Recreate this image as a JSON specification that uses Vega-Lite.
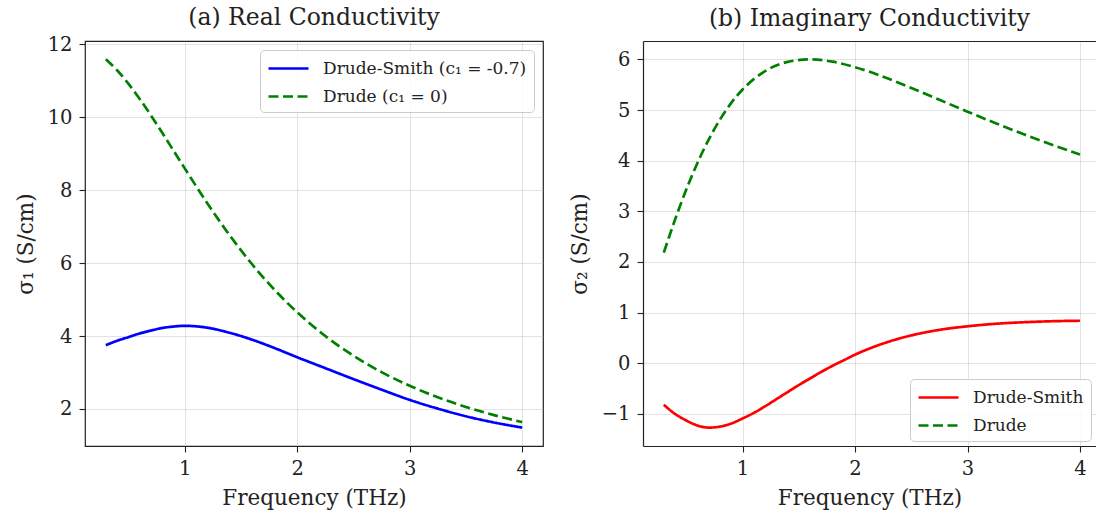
{
  "$schema": "https://vega.github.io/schema/vega-lite/v6.json",
  "padding": {"left": 14, "top": 5, "right": 0, "bottom": 0},
  "background": "white",
  "datasets": {
    "real": [
      {"f": 0.3, "s": "Drude-Smith (c₁ = -0.7)", "v": 3.75},
      {"f": 0.4, "s": "Drude-Smith (c₁ = -0.7)", "v": 3.87},
      {"f": 0.5, "s": "Drude-Smith (c₁ = -0.7)", "v": 3.97},
      {"f": 0.6, "s": "Drude-Smith (c₁ = -0.7)", "v": 4.07},
      {"f": 0.7, "s": "Drude-Smith (c₁ = -0.7)", "v": 4.15},
      {"f": 0.8, "s": "Drude-Smith (c₁ = -0.7)", "v": 4.22},
      {"f": 0.9, "s": "Drude-Smith (c₁ = -0.7)", "v": 4.26},
      {"f": 1.0, "s": "Drude-Smith (c₁ = -0.7)", "v": 4.28},
      {"f": 1.2, "s": "Drude-Smith (c₁ = -0.7)", "v": 4.23},
      {"f": 1.4, "s": "Drude-Smith (c₁ = -0.7)", "v": 4.09},
      {"f": 1.6, "s": "Drude-Smith (c₁ = -0.7)", "v": 3.90},
      {"f": 1.8, "s": "Drude-Smith (c₁ = -0.7)", "v": 3.67},
      {"f": 2.0, "s": "Drude-Smith (c₁ = -0.7)", "v": 3.42},
      {"f": 2.25, "s": "Drude-Smith (c₁ = -0.7)", "v": 3.12},
      {"f": 2.5, "s": "Drude-Smith (c₁ = -0.7)", "v": 2.82},
      {"f": 2.75, "s": "Drude-Smith (c₁ = -0.7)", "v": 2.53},
      {"f": 3.0, "s": "Drude-Smith (c₁ = -0.7)", "v": 2.25},
      {"f": 3.25, "s": "Drude-Smith (c₁ = -0.7)", "v": 2.01},
      {"f": 3.5, "s": "Drude-Smith (c₁ = -0.7)", "v": 1.80},
      {"f": 3.75, "s": "Drude-Smith (c₁ = -0.7)", "v": 1.63},
      {"f": 4.0, "s": "Drude-Smith (c₁ = -0.7)", "v": 1.49},
      {"f": 0.3, "s": "Drude (c₁ = 0)", "v": 11.588},
      {"f": 0.4, "s": "Drude (c₁ = 0)", "v": 11.287},
      {"f": 0.5, "s": "Drude (c₁ = 0)", "v": 10.922},
      {"f": 0.6, "s": "Drude (c₁ = 0)", "v": 10.507},
      {"f": 0.7, "s": "Drude (c₁ = 0)", "v": 10.055},
      {"f": 0.8, "s": "Drude (c₁ = 0)", "v": 9.580},
      {"f": 0.9, "s": "Drude (c₁ = 0)", "v": 9.092},
      {"f": 1.0, "s": "Drude (c₁ = 0)", "v": 8.604},
      {"f": 1.2, "s": "Drude (c₁ = 0)", "v": 7.651},
      {"f": 1.4, "s": "Drude (c₁ = 0)", "v": 6.765},
      {"f": 1.6, "s": "Drude (c₁ = 0)", "v": 5.968},
      {"f": 1.8, "s": "Drude (c₁ = 0)", "v": 5.265},
      {"f": 2.0, "s": "Drude (c₁ = 0)", "v": 4.653},
      {"f": 2.25, "s": "Drude (c₁ = 0)", "v": 4.002},
      {"f": 2.5, "s": "Drude (c₁ = 0)", "v": 3.461},
      {"f": 2.75, "s": "Drude (c₁ = 0)", "v": 3.011},
      {"f": 3.0, "s": "Drude (c₁ = 0)", "v": 2.636},
      {"f": 3.25, "s": "Drude (c₁ = 0)", "v": 2.321},
      {"f": 3.5, "s": "Drude (c₁ = 0)", "v": 2.056},
      {"f": 3.75, "s": "Drude (c₁ = 0)", "v": 1.832},
      {"f": 4.0, "s": "Drude (c₁ = 0)", "v": 1.640}
    ],
    "imag": [
      {"f": 0.3, "s": "Drude-Smith", "v": -0.82},
      {"f": 0.4, "s": "Drude-Smith", "v": -1.00},
      {"f": 0.5, "s": "Drude-Smith", "v": -1.13},
      {"f": 0.6, "s": "Drude-Smith", "v": -1.23},
      {"f": 0.7, "s": "Drude-Smith", "v": -1.27},
      {"f": 0.8, "s": "Drude-Smith", "v": -1.25},
      {"f": 0.9, "s": "Drude-Smith", "v": -1.19},
      {"f": 1.0, "s": "Drude-Smith", "v": -1.09},
      {"f": 1.1, "s": "Drude-Smith", "v": -0.98},
      {"f": 1.2, "s": "Drude-Smith", "v": -0.85},
      {"f": 1.3, "s": "Drude-Smith", "v": -0.71},
      {"f": 1.4, "s": "Drude-Smith", "v": -0.57},
      {"f": 1.5, "s": "Drude-Smith", "v": -0.43},
      {"f": 1.6, "s": "Drude-Smith", "v": -0.30},
      {"f": 1.7, "s": "Drude-Smith", "v": -0.17},
      {"f": 1.8, "s": "Drude-Smith", "v": -0.05},
      {"f": 1.9, "s": "Drude-Smith", "v": 0.06},
      {"f": 2.0, "s": "Drude-Smith", "v": 0.17},
      {"f": 2.25, "s": "Drude-Smith", "v": 0.39},
      {"f": 2.5, "s": "Drude-Smith", "v": 0.55},
      {"f": 2.75, "s": "Drude-Smith", "v": 0.66},
      {"f": 3.0, "s": "Drude-Smith", "v": 0.73},
      {"f": 3.25, "s": "Drude-Smith", "v": 0.78},
      {"f": 3.5, "s": "Drude-Smith", "v": 0.81},
      {"f": 3.75, "s": "Drude-Smith", "v": 0.83},
      {"f": 4.0, "s": "Drude-Smith", "v": 0.84},
      {"f": 0.3, "s": "Drude", "v": 2.184},
      {"f": 0.4, "s": "Drude", "v": 2.837},
      {"f": 0.5, "s": "Drude", "v": 3.431},
      {"f": 0.6, "s": "Drude", "v": 3.961},
      {"f": 0.7, "s": "Drude", "v": 4.422},
      {"f": 0.8, "s": "Drude", "v": 4.815},
      {"f": 0.9, "s": "Drude", "v": 5.142},
      {"f": 1.0, "s": "Drude", "v": 5.406},
      {"f": 1.2, "s": "Drude", "v": 5.768},
      {"f": 1.4, "s": "Drude", "v": 5.951},
      {"f": 1.6, "s": "Drude", "v": 6.000},
      {"f": 1.8, "s": "Drude", "v": 5.955},
      {"f": 2.0, "s": "Drude", "v": 5.847},
      {"f": 2.25, "s": "Drude", "v": 5.658},
      {"f": 2.5, "s": "Drude", "v": 5.436},
      {"f": 2.75, "s": "Drude", "v": 5.202},
      {"f": 3.0, "s": "Drude", "v": 4.968},
      {"f": 3.25, "s": "Drude", "v": 4.740},
      {"f": 3.5, "s": "Drude", "v": 4.522},
      {"f": 3.75, "s": "Drude", "v": 4.316},
      {"f": 4.0, "s": "Drude", "v": 4.122}
    ]
  },
  "config": {
    "font": "DejaVu Serif",
    "view": {"stroke": "#222222", "strokeWidth": 1.2},
    "axis": {
      "domain": false,
      "grid": true,
      "gridColor": "#b0b0b0",
      "gridOpacity": 0.35,
      "gridWidth": 1,
      "tickColor": "#222222",
      "tickSize": 6,
      "tickWidth": 1.1,
      "labelFont": "DejaVu Serif",
      "labelFontSize": 19.5,
      "labelColor": "#222222",
      "labelPadding": 7,
      "titleFont": "DejaVu Serif",
      "titleFontSize": 21.5,
      "titleFontWeight": "normal",
      "titleColor": "#222222",
      "titlePadding": 10
    },
    "title": {"font": "DejaVu Serif", "fontSize": 23.5, "fontWeight": "normal", "color": "#222222"},
    "legend": {
      "title": null,
      "labelFont": "DejaVu Serif",
      "labelFontSize": 17,
      "labelColor": "#222222",
      "labelLimit": 500,
      "symbolType": "M-2,0H2",
      "symbolSize": 400,
      "symbolStrokeWidth": 2.7,
      "symbolFillColor": "transparent",
      "symbolOffset": 10,
      "labelOffset": 23,
      "padding": 7,
      "rowPadding": 8,
      "strokeColor": "#cccccc",
      "fillColor": "rgba(255,255,255,0.85)",
      "cornerRadius": 4
    }
  },
  "bounds": "flush",
  "spacing": 100,
  "hconcat": [
    {
      "width": 458,
      "height": 405,
      "title": {"text": "(a) Real Conductivity", "offset": 5},
      "data": {"name": "real"},
      "mark": {"type": "line", "strokeWidth": 2.7, "interpolate": "monotone", "clip": true},
      "encoding": {
        "x": {"field": "f", "type": "quantitative", "scale": {"domain": [0.115, 4.185], "nice": false, "zero": false},
              "axis": {"values": [1, 2, 3, 4], "title": "Frequency (THz)"}},
        "y": {"field": "v", "type": "quantitative", "scale": {"domain": [0.985, 12.09], "nice": false, "zero": false},
              "axis": {"values": [2, 4, 6, 8, 10, 12], "title": "σ₁ (S/cm)"}},
        "color": {"field": "s", "type": "nominal",
                  "scale": {"domain": ["Drude-Smith (c₁ = -0.7)", "Drude (c₁ = 0)"], "range": ["#0000ff", "#008000"]},
                  "legend": {"orient": "top-right", "offset": 9}},
        "strokeDash": {"field": "s", "type": "nominal",
                  "scale": {"domain": ["Drude-Smith (c₁ = -0.7)", "Drude (c₁ = 0)"], "range": [[1, 0], [10, 4.5]]},
                  "legend": {"orient": "top-right", "offset": 9}}
      }
    },
    {
      "width": 453,
      "height": 405,
      "title": {"text": "(b) Imaginary Conductivity", "offset": 11},
      "view": {"stroke": null},
      "data": {"name": "imag"},
      "resolve": {"axis": {"x": "independent"}},
      "layer": [
        {
          "mark": {"type": "line", "strokeWidth": 2.7, "interpolate": "monotone", "clip": true},
          "encoding": {
            "x": {"field": "f", "type": "quantitative", "scale": {"domain": [0.115, 4.142], "nice": false, "zero": false},
                  "axis": {"orient": "bottom", "values": [1, 2, 3, 4], "title": "Frequency (THz)", "domain": true, "domainColor": "#222222", "domainWidth": 1.2}},
            "y": {"field": "v", "type": "quantitative", "scale": {"domain": [-1.6335, 6.3635], "nice": false, "zero": false},
                  "axis": {"values": [-1, 0, 1, 2, 3, 4, 5, 6], "title": "σ₂ (S/cm)", "domain": true, "domainColor": "#222222", "domainWidth": 1.2}},
            "color": {"field": "s", "type": "nominal",
                      "scale": {"domain": ["Drude-Smith", "Drude"], "range": ["#ff0000", "#008000"]},
                      "legend": {"orient": "bottom-right", "offset": 5}},
            "strokeDash": {"field": "s", "type": "nominal",
                      "scale": {"domain": ["Drude-Smith", "Drude"], "range": [[1, 0], [10, 4.5]]},
                      "legend": {"orient": "bottom-right", "offset": 5}}
          }
        },
        {
          "mark": {"type": "line", "opacity": 0},
          "encoding": {
            "x": {"field": "f", "type": "quantitative",
                  "axis": {"orient": "top", "labels": false, "ticks": false, "grid": false, "title": null, "domain": true, "domainColor": "#222222", "domainWidth": 1.2}},
            "y": {"field": "v", "type": "quantitative"}
          }
        }
      ]
    }
  ],
  "resolve": {"scale": {"x": "independent", "y": "independent", "color": "independent", "strokeDash": "independent"}}
}
